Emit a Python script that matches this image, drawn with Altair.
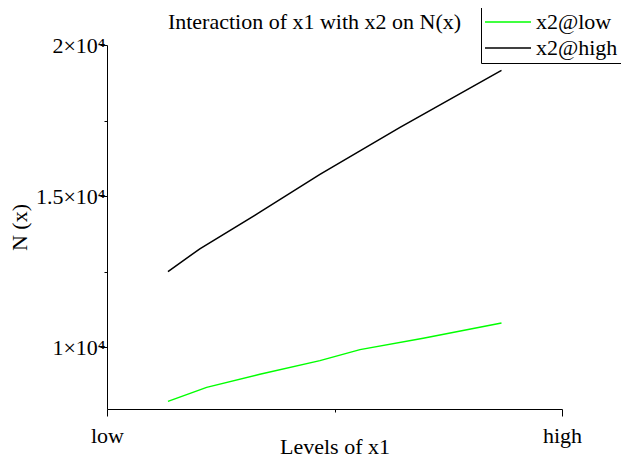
import altair as alt
import pandas as pd

FONT = "Liberation Serif"

series_names = ["x2@low", "x2@high"]
series_colors = ["#00ff00", "#000000"]

# x position on the "Levels of x1" axis (0 = low, 1 = high)
low_x = [0.134, 0.219, 0.336, 0.468, 0.556, 0.695, 0.867]
low_y = [8212, 8675, 9109, 9560, 9924, 10298, 10808]
high_x = [0.134, 0.204, 0.336, 0.468, 0.556, 0.644, 0.867]
high_y = [12507, 13258, 14470, 15719, 16500, 17275, 19162]

x_tick_values = [0, 0.5, 1]
x_tick_labels = ["low", "", "high"]
y_tick_values = [10000, 12500, 15000, 17500, 20000]
y_tick_labels = ["1×10⁴", "", "1.5×10⁴", "", "2×10⁴"]
y_domain = [7960, 20000]

rows = []
for name, xs, ys in [(series_names[0], low_x, low_y), (series_names[1], high_x, high_y)]:
    for xv, yv in zip(xs, ys):
        rows.append({"series": name, "x": xv, "N": yv})
df = pd.DataFrame(rows)


def label_expr(values, labels):
    parts = [f"datum.value == {v} ? '{l}'" for v, l in zip(values, labels)]
    return " : ".join(parts) + " : ''"


def minor_test(values, labels):
    tests = [f"datum.value == {v}" for v, l in zip(values, labels) if l == ""]
    return " || ".join(tests) if tests else "false"


x_axis = alt.Axis(
    values=x_tick_values,
    labelExpr=label_expr(x_tick_values, x_tick_labels),
    title="Levels of x1",
    grid=False,
    domainColor="black",
    tickColor="black",
    tickSize={"condition": {"test": minor_test(x_tick_values, x_tick_labels), "value": 3}, "value": 7},
    labelFont=FONT,
    labelFontSize=22,
    labelColor="black",
    labelPadding=9,
    labelFlush=False,
    titleFont=FONT,
    titleFontSize=22,
    titleFontWeight="normal",
    titleColor="black",
    titlePadding=-10,
)

y_axis = alt.Axis(
    values=y_tick_values,
    labelExpr=label_expr(y_tick_values, y_tick_labels),
    title="N (x)",
    grid=False,
    domainColor="black",
    tickColor="black",
    tickSize={"condition": {"test": minor_test(y_tick_values, y_tick_labels), "value": 3}, "value": 7},
    labelFont=FONT,
    labelFontSize=22,
    labelColor="black",
    labelPadding=-5,
    labelFlush=True,
    labelFlushOffset=10,
    titleFont=FONT,
    titleFontSize=22,
    titleFontWeight="normal",
    titleColor="black",
    titleX=-76,
    titleY=182,
    titleAngle=-90,
    titleAlign="center",
    titleBaseline="bottom",
)

chart = (
    alt.Chart(df)
    .mark_line(strokeWidth=1.5)
    .encode(
        x=alt.X("x:Q", scale=alt.Scale(domain=[0, 1], nice=False, zero=False), axis=x_axis),
        y=alt.Y("N:Q", scale=alt.Scale(domain=y_domain, nice=False, zero=False), axis=y_axis),
        color=alt.Color(
            "series:N",
            scale=alt.Scale(domain=series_names, range=series_colors),
            legend=alt.Legend(
                orient="none",
                legendX=374,
                legendY=-38,
                title=None,
                symbolType="stroke",
                symbolSize=2116,
                symbolStrokeWidth=1.5,
                symbolOffset=0,
                clipHeight=24,
                labelFont=FONT,
                labelFontSize=22,
                labelColor="black",
                labelOffset=4,
                padding=3,
                rowPadding=2,
                strokeColor="black",
                fillColor="white",
            ),
        ),
    )
    .properties(
        width=455,
        height=364,
        title=alt.Title(
            "Interaction of x1 with x2 on N(x)",
            font=FONT,
            fontSize=22,
            fontWeight="normal",
            color="black",
            anchor="middle",
            dx=-20,
            offset=-27,
        ),
        padding={"left": 99, "top": 37, "right": 59, "bottom": 48},
        autosize=alt.AutoSizeParams(type="none"),
    )
    .configure(font=FONT)
    .configure_view(strokeWidth=0)
)

chart.save("out.html", embed_options={"renderer": "svg", "actions": False})
